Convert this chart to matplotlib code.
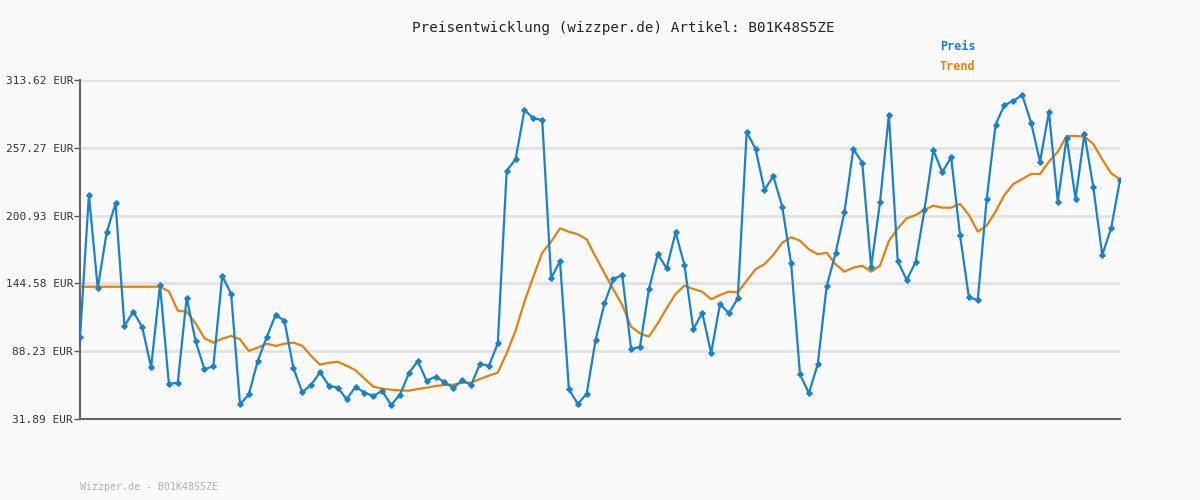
import matplotlib
matplotlib.use("Agg")
from matplotlib import pyplot as plt

# Values
preis = [
    99.8, 218.0, 140.5, 187.0, 211.1, 109.2, 121.1, 108.3, 74.9, 143.2,
    61.0, 62.1, 132.7, 96.7, 73.2, 75.7, 150.7, 136.0, 44.1, 52.4,
    80.3, 99.8, 118.3, 113.6, 74.5, 54.1, 60.2, 70.7, 59.6, 57.9,
    48.3, 58.7, 53.8, 51.0, 55.2, 43.5, 52.1, 69.9, 80.1, 63.5,
    67.1, 62.6, 57.7, 64.3, 59.9, 77.9, 75.9, 94.8, 238.2, 247.7,
    288.7, 281.8, 280.4, 148.8, 163.2, 56.6, 44.4, 52.7, 97.5, 128.0,
    148.0, 151.6, 89.8, 92.0, 139.7, 169.0, 157.1, 187.0, 159.9, 106.4,
    120.2, 86.5, 127.5, 119.7, 132.2, 270.4, 256.3, 222.2, 233.8, 208.3,
    161.3, 69.0, 53.3, 77.6, 142.4, 169.6, 203.7, 256.3, 244.9, 158.0,
    212.0, 284.8, 162.9, 147.4, 162.1, 205.6, 255.4, 236.9, 249.4, 184.8,
    133.0, 130.8, 214.7, 276.5, 292.8, 296.2, 301.1, 278.1, 245.7, 287.0,
    212.5, 265.7, 214.7, 268.7, 224.4, 168.2, 190.4, 230.5,
]
trend = [
    141.8, 141.8, 141.8, 141.8, 141.8, 141.8, 141.8, 141.8, 141.8, 141.8,
    138.0, 121.9, 121.1, 111.4, 99.0, 95.3, 98.6, 100.9, 98.1, 88.4,
    91.2, 94.5, 92.6, 94.5, 95.3, 92.8, 84.3, 77.0, 78.7, 79.3,
    76.2, 72.4, 65.4, 58.7, 57.1, 56.2, 55.7, 55.4, 56.8, 57.9,
    59.3, 60.2, 60.4, 62.1, 62.1, 65.1, 67.9, 70.4, 86.5, 105.3,
    129.4, 150.2, 170.1, 179.2, 190.4, 187.5, 185.4, 181.2, 166.8, 153.0,
    139.7, 126.6, 108.6, 103.1, 100.3, 111.4, 123.9, 135.8, 142.7, 139.9,
    137.7, 131.4, 134.9, 137.7, 137.2, 146.8, 156.3, 160.5, 168.2, 178.4,
    182.9, 180.1, 172.9, 168.8, 170.1, 160.4, 154.3, 157.7, 159.3, 154.3,
    159.3, 179.8, 190.3, 198.6, 201.4, 205.6, 209.2, 207.5, 207.5, 210.6,
    201.4, 187.6, 192.6, 204.2, 218.0, 227.2, 231.3, 235.5, 235.5, 245.7,
    254.0, 267.1, 267.1, 266.5, 260.4, 247.7, 236.1, 231.1,
]
y_ticks = [31.89, 88.23, 144.58, 200.93, 257.27, 313.62]
artikel = "B01K48S5ZE"

plt.rcParams["font.family"] = "DejaVu Sans Mono"

bg = "#fafafa"
blue = "#1a82c8"
orange = "#e0820f"

fig = plt.figure(figsize=(12, 5), dpi=100, facecolor=bg)
ax = fig.add_axes([80 / 1200, 81 / 500, 1040 / 1200, 339 / 500], facecolor=bg)

x = list(range(len(preis)))
ax.plot(x, trend, color=orange, linewidth=1.6, zorder=3)
ax.plot(x, preis, color=blue, linewidth=1.6, marker="P", markersize=3.5, zorder=4)

ax.set_xlim(0, len(preis) - 1)
ax.set_ylim(y_ticks[0], y_ticks[-1])
ax.set_yticks(y_ticks)
ax.set_yticklabels(["%.2f EUR" % v for v in y_ticks], fontsize=8, color="#333333")
ax.set_xticks([])
ax.grid(axis="y", color="#e2e2e2", linewidth=2)
ax.set_axisbelow(True)
ax.tick_params(axis="y", length=4, width=1, color="#555555", pad=1)

for side in ["top", "right"]:
    ax.spines[side].set_visible(False)
ax.spines["left"].set_color("#666666")
ax.spines["bottom"].set_color("#666666")
ax.spines["left"].set_linewidth(1.5)
ax.spines["bottom"].set_linewidth(1.5)

fig.text(623 / 1200, 1 - 28 / 500, "Preisentwicklung (wizzper.de) Artikel: %s" % artikel,
         ha="center", va="center", fontsize=10.3, color="#222222")
fig.text(940 / 1200, 1 - 47 / 500, "Preis", ha="left", va="center",
         fontsize=8.5, color=blue, weight="bold")
fig.text(940 / 1200, 1 - 67 / 500, "Trend", ha="left", va="center",
         fontsize=8.5, color=orange, weight="bold")
fig.text(80 / 1200, 1 - 487 / 500, "Wizzper.de - %s" % artikel, ha="left", va="center",
         fontsize=7.2, color="#b0b0b0")

plt.savefig("out.png", dpi=100, facecolor=bg)
plt.close()
